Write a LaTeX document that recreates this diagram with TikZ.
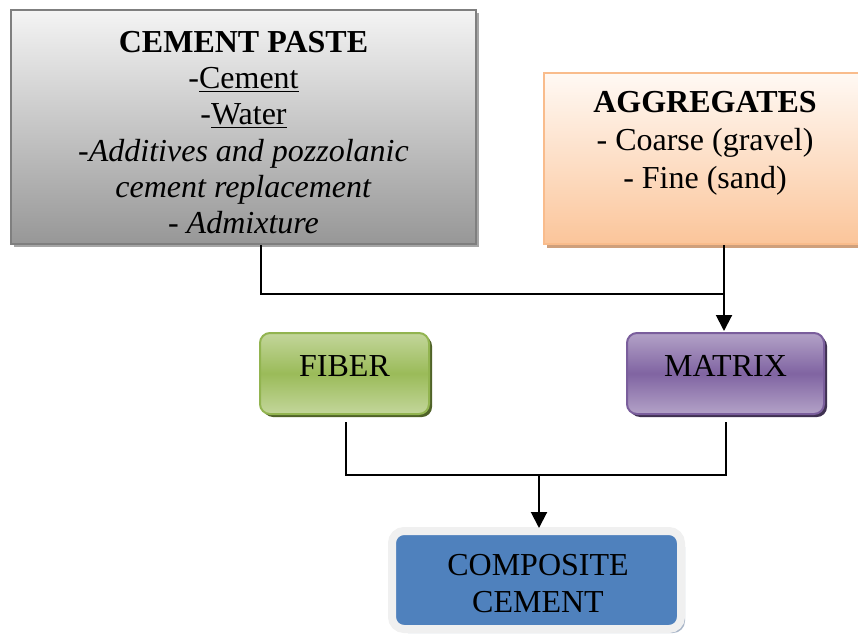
\documentclass[tikz,border=0pt]{standalone}
\usepackage{fontspec}
\setmainfont{Liberation Serif}
\usetikzlibrary{arrows.meta,shadows}
\definecolor{cpTop}{HTML}{F4F4F4}
\definecolor{cpBot}{HTML}{979797}
\definecolor{cpLine}{HTML}{7F7F7F}
\definecolor{cpShadow}{HTML}{A6A6A6}
\definecolor{agTop}{HTML}{FFF9F4}
\definecolor{agBot}{HTML}{FBC59A}
\definecolor{agLine}{HTML}{F9BC8C}
\definecolor{agShadow}{HTML}{CFA07C}
\definecolor{fbLight}{HTML}{C3D69B}
\definecolor{fbMid}{HTML}{9BBB59}
\definecolor{fbLine}{HTML}{92B450}
\definecolor{fbShadow}{HTML}{4F6228}
\definecolor{mxLight}{HTML}{B3A2C7}
\definecolor{mxMid}{HTML}{8064A2}
\definecolor{mxLine}{HTML}{7A5E9C}
\definecolor{mxShadow}{HTML}{3F3151}
\definecolor{ccFill}{HTML}{4F81BD}
\definecolor{ccFrame}{HTML}{F0F0F0}
\definecolor{ccShadow}{HTML}{A9B6C8}
\tikzset{
  txt/.style={font=\fontsize{32}{36}\selectfont, align=center, inner sep=0pt, anchor=base},
  conn/.style={line width=1.4pt, draw=black},
  arr/.style={line width=2pt, draw=black, -{Triangle[length=16pt,width=16pt]}},
  cpbox/.style={draw=cpLine, line width=2pt, top color=cpTop, bottom color=cpBot,
    minimum width=465pt, minimum height=234pt, inner sep=0pt,
    drop shadow={shadow xshift=3pt, shadow yshift=-3pt, fill=cpShadow, opacity=1}},
  agbox/.style={draw=agLine, line width=2pt, top color=agTop, bottom color=agBot,
    minimum width=322pt, minimum height=171pt, inner sep=0pt,
    drop shadow={shadow xshift=3pt, shadow yshift=-4pt, fill=agShadow, opacity=1}},
  fbbox/.style={draw=fbLine, line width=2pt, rounded corners=10pt,
    top color=fbLight, bottom color=fbLight, middle color=fbMid,
    minimum width=169pt, minimum height=81pt, inner sep=0pt,
    drop shadow={shadow xshift=3pt, shadow yshift=-3pt, fill=fbShadow, opacity=1}},
  mxbox/.style={draw=mxLine, line width=2pt, rounded corners=10pt,
    top color=mxLight, bottom color=mxLight, middle color=mxMid,
    minimum width=197pt, minimum height=81pt, inner sep=0pt,
    drop shadow={shadow xshift=3pt, shadow yshift=-3pt, fill=mxShadow, opacity=1}},
  ccbox/.style={draw=ccFrame, line width=8pt, rounded corners=12pt, fill=ccFill,
    minimum width=289pt, minimum height=98pt, inner sep=0pt,
    drop shadow={shadow xshift=4pt, shadow yshift=-4pt, fill=ccShadow, opacity=1}}
}
\begin{document}
\begin{tikzpicture}[x=1pt,y=-1pt]
\useasboundingbox (0,0) rectangle (858,639);
\clip (0,0) rectangle (858,639);
% boxes
\node[cpbox] (cp) at (243.5,127) {};
\node[agbox] (ag) at (705,158.5) {};
\node[fbbox] (fb) at (344.5,373.5) {};
\node[mxbox] (mx) at (725.5,373.5) {};
\node[ccbox] (cc) at (536.5,580) {};
% texts (base anchor = baseline of the last line)
\node[txt] (cpt) at (243.5,233) {\textbf{CEMENT PASTE}\\-\underline{Cement}\\-\underline{Water}\\\textit{-Additives and pozzolanic}\\\textit{cement replacement}\\\textit{- Admixture}};
\node[txt, font=\fontsize{32}{37.5}\selectfont] (agt) at (705,188) {\textbf{AGGREGATES}\\- Coarse (gravel)\\- Fine (sand)};
\node[txt] (fbt) at (344.5,376) {FIBER};
\node[txt] (mxt) at (725.5,376) {MATRIX};
\node[txt, font=\fontsize{32}{37}\selectfont] (cct) at (538,612) {COMPOSITE\\CEMENT};
% connector points
\coordinate (cpo) at (261,245);
\coordinate (ago) at (724,245);
\coordinate (j1) at (724,294);
\coordinate (mxi) at (724,331);
\coordinate (fbo) at (346,422);
\coordinate (mxo) at (726,422);
\coordinate (j2) at (539,475);
\coordinate (cci) at (539,528);
% connectors
\draw[conn] (cpo) |- (j1);
\draw[arr] (ago) -- (mxi);
\draw[conn] (fbo) |- (j2) -| (mxo);
\draw[arr] (j2) -- (cci);
\end{tikzpicture}
\end{document}
